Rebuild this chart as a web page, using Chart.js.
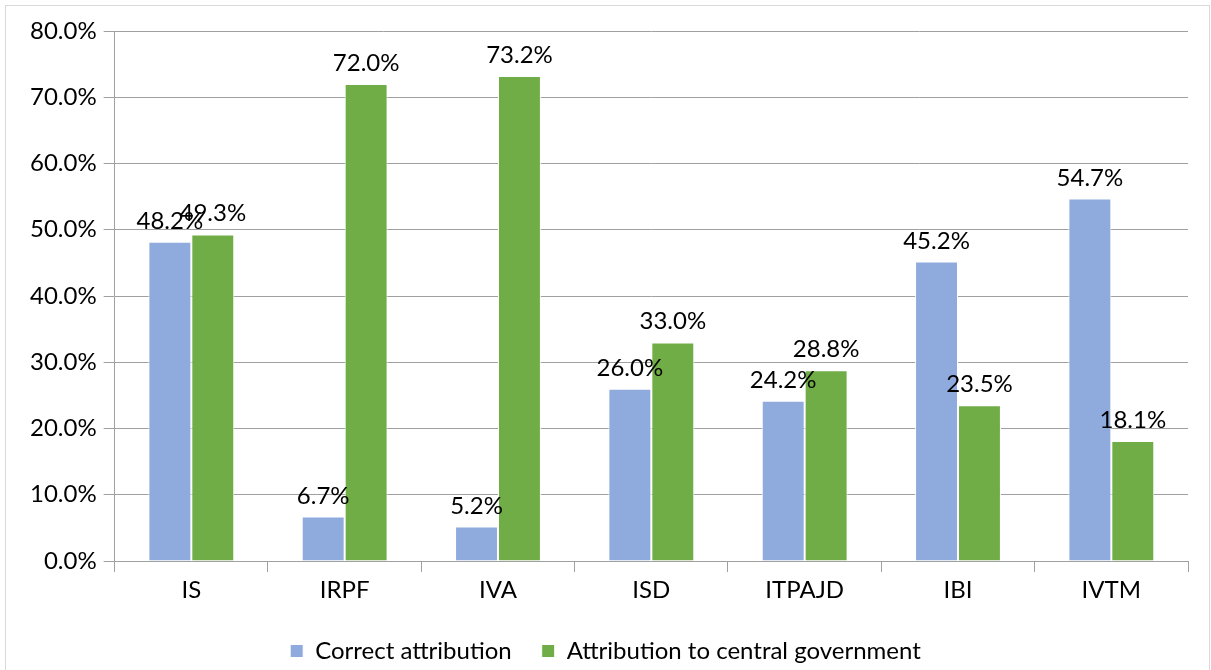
<!DOCTYPE html>
<html>
<head>
<meta charset="utf-8">
<script src="https://cdn.jsdelivr.net/npm/chart.js@4"></script>
<style>
  html, body { margin: 0; padding: 0; background: #fff; overflow: hidden; width: 1211px; height: 670px; }
  #frame {
    position: absolute; left: 5px; top: 5px; width: 1205px; height: 720px;
    border: 1px solid #D9D9D9; box-sizing: border-box;
  }
  /* canvas runs a little past the bottom edge so the legend sits low */
  #wrap { position: absolute; left: 0; top: 0; width: 1211px; height: 673px; }
</style>
</head>
<body>
<div id="frame"></div>
<div id="wrap"><canvas id="taxChart"></canvas></div>
<script>
const categories = ['IS', 'IRPF', 'IVA', 'ISD', 'ITPAJD', 'IBI', 'IVTM'];
const correctAttribution = [48.2, 6.7, 5.2, 26.0, 24.2, 45.2, 54.7];
const centralAttribution = [49.3, 72.0, 73.2, 33.0, 28.8, 23.5, 18.1];
const seriesNames = ['Correct attribution', 'Attribution to central government'];

const FONT = 'Lato';

// value labels above every bar
const barLabels = {
    id: 'barLabels',
    afterDatasetsDraw(chart) {
        const ctx = chart.ctx;
        ctx.save();
        ctx.font = '24px ' + FONT;
        ctx.fillStyle = '#000';
        ctx.textAlign = 'center';
        ctx.textBaseline = 'alphabetic';
        chart.data.datasets.forEach((ds, i) => {
            chart.getDatasetMeta(i).data.forEach((bar, j) => {
                ctx.fillText(ds.data[j].toFixed(1) + '%', bar.x, bar.y - 13);
            });
        });
        ctx.restore();
    }
};

const ctx = document.getElementById('taxChart').getContext('2d');
new Chart(ctx, {
    type: 'bar',
    data: {
        labels: categories,
        datasets: [{
            label: seriesNames[0],
            data: correctAttribution,
            backgroundColor: '#8FAADC',
            borderColor: '#fff',
            borderWidth: 1,
            categoryPercentage: 0.56,
            barPercentage: 1
        }, {
            label: seriesNames[1],
            data: centralAttribution,
            backgroundColor: '#70AD47',
            borderColor: '#fff',
            borderWidth: 1,
            categoryPercentage: 0.56,
            barPercentage: 1
        }]
    },
    options: {
        responsive: true,
        maintainAspectRatio: false,
        animation: false,
        layout: {
            padding: { left: 23, right: 23, top: 31, bottom: 0 }
        },
        scales: {
            x: {
                afterFit: scale => { scale.height = 48; },
                grid: {
                    offset: true,
                    drawOnChartArea: false,
                    drawTicks: true,
                    tickLength: 11,
                    color: '#A0A0A0'
                },
                border: { color: '#A0A0A0' },
                ticks: {
                    color: '#000',
                    font: { family: FONT, size: 24 },
                    padding: 4
                }
            },
            y: {
                min: 0,
                max: 80,
                grid: {
                    color: '#A0A0A0',
                    tickLength: 11
                },
                border: { color: '#A0A0A0' },
                ticks: {
                    stepSize: 10,
                    color: '#000',
                    font: { family: FONT, size: 24 },
                    padding: 7,
                    callback: v => v.toFixed(1) + '%'
                }
            }
        },
        plugins: {
            legend: {
                position: 'bottom',
                labels: {
                    color: '#000',
                    font: { family: FONT, size: 24 },
                    boxWidth: 13,
                    boxHeight: 13,
                    padding: 30
                }
            },
            tooltip: { enabled: false }
        }
    },
    plugins: [barLabels]
});
</script>
</body>
</html>
